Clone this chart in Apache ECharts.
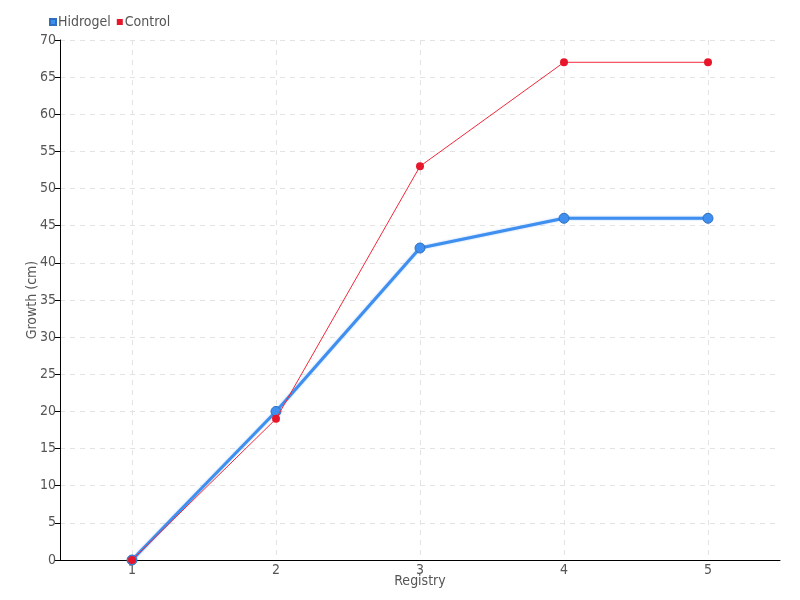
<!DOCTYPE html>
<html><head><meta charset="utf-8">
<script src="https://cdn.jsdelivr.net/npm/echarts@6/dist/echarts.min.js"></script>
<style>html,body{margin:0;padding:0;background:#fff}#c{width:800px;height:600px}</style>
</head><body><div id="c"></div>
<script>
const categories = ['1','2','3','4','5'];
const hidrogel = [0, 20, 42, 46, 46];
const control = [0, 19, 53, 67, 67];
const yTicks = {min: 0, max: 70, interval: 5};

const FONT = '"DejaVu Sans Condensed","Liberation Sans Narrow",sans-serif';
const chart = echarts.init(document.getElementById('c'));
chart.setOption({
  animation: false,
  textStyle: {fontFamily: FONT, color: '#555'},
  legend: {
    left: 44, top: 10, itemWidth: 6, itemHeight: 6, itemGap: 6,
    icon: 'rect',
    textStyle: {fontFamily: FONT, fontSize: 14, color: '#555', padding: [0,0,0,-3]},
    data: ['Hidrogel', 'Control']
  },
  grid: {left: 60, right: 20, top: 40, bottom: 40, containLabel: false, outerBoundsMode: 'none'},
  xAxis: {
    type: 'category', data: categories, boundaryGap: true,
    name: 'Registry', nameLocation: 'middle', nameGap: 14, nameMoveOverlap: false,
    nameTextStyle: {fontFamily: FONT, fontSize: 14, color: '#555'},
    axisLine: {lineStyle: {color: '#000', width: 1}},
    axisTick: {alignWithLabel: true, length: 5, lineStyle: {color: '#000'}},
    axisLabel: {fontFamily: FONT, fontSize: 14, color: '#555', margin: 3},
    splitLine: {show: true, alignWithLabel: true, lineStyle: {color: '#e3e3e3', type: [5, 5]}}
  },
  yAxis: {
    type: 'value', min: yTicks.min, max: yTicks.max, interval: yTicks.interval,
    name: 'Growth (cm)', nameLocation: 'middle', nameGap: 21, nameMoveOverlap: false,
    nameTextStyle: {fontFamily: FONT, fontSize: 14, color: '#555'},
    axisLine: {show: true, lineStyle: {color: '#000', width: 1}},
    axisTick: {show: true, length: 5, lineStyle: {color: '#000'}},
    axisLabel: {fontFamily: FONT, fontSize: 14, color: '#555', margin: 4},
    splitLine: {show: true, lineStyle: {color: '#e3e3e3', type: [5, 5]}}
  },
  series: [
    {
      name: 'Hidrogel', type: 'line', data: hidrogel,
      symbol: 'circle', symbolSize: 10,
      itemStyle: {color: '#3f8ff0', borderColor: '#2f6fc0', borderWidth: 1},
      lineStyle: {color: '#3f8ff0', width: 3, shadowColor: 'rgba(63,143,240,0.5)', shadowBlur: 2},
      z: 2
    },
    {
      name: 'Control', type: 'line', data: control,
      symbol: 'circle', symbolSize: 8,
      itemStyle: {color: '#e8162a'},
      lineStyle: {color: '#f0283a', width: 1},
      z: 3
    }
  ]
});
</script></body></html>
